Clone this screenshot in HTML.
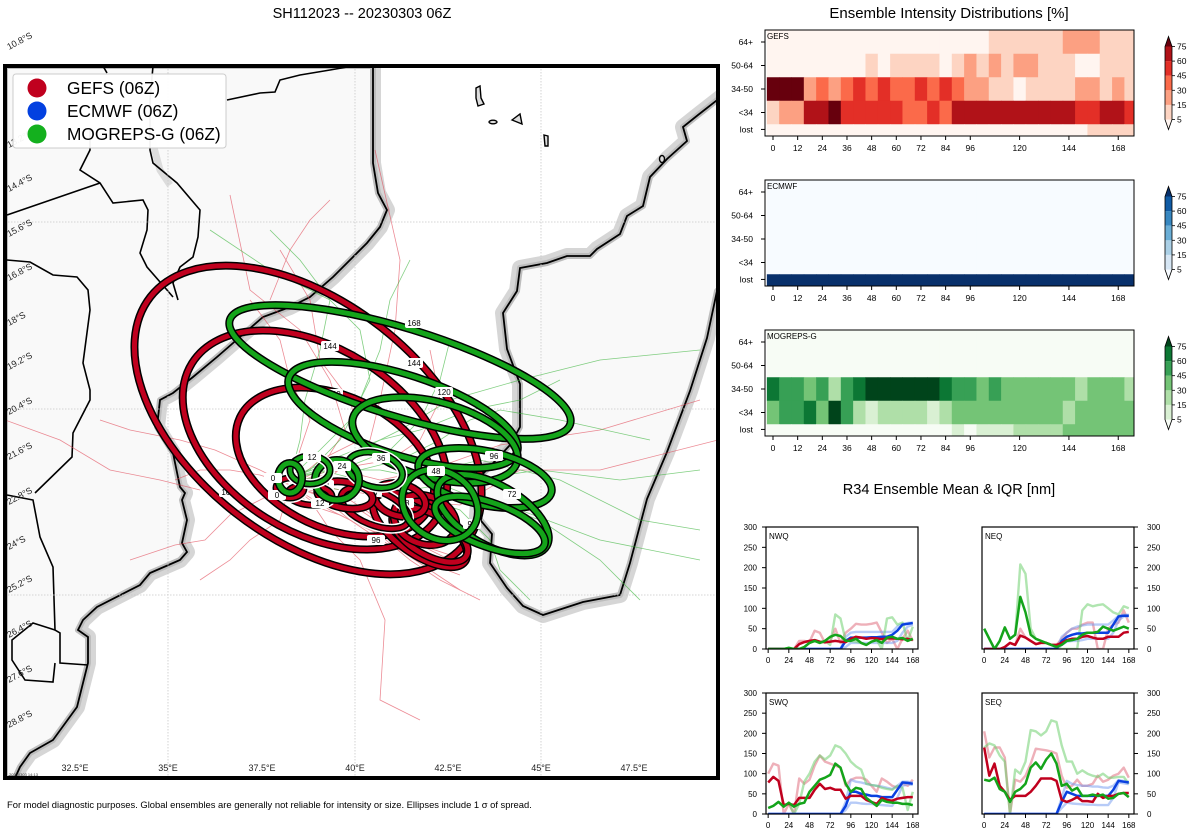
<!DOCTYPE html>
<html><head><meta charset="utf-8">
<style>
html,body{margin:0;padding:0;background:#fff;}
svg{display:block;font-family:"Liberation Sans","DejaVu Sans",sans-serif;}
</style></head>
<body>
<svg id="root" width="1200" height="840" viewBox="0 0 1200 840" xmlns="http://www.w3.org/2000/svg">
<defs>
<clipPath id="mapclip"><rect x="5" y="66" width="713" height="712"/></clipPath>
</defs>
<rect x="0" y="0" width="1200" height="840" fill="#fff"/>
<text x="362" y="18" text-anchor="middle" font-size="14.5">SH112023 -- 20230303 06Z</text>

<g id="map" clip-path="url(#mapclip)">
  <rect x="5" y="66" width="713" height="712" fill="#fff"/>
  <g>
  <path d="M5,66 L373,66 L373,130 L373,163 L378,193 L387,210 L380,227 L367,243 L353,257 L333,277 L310,297 L290,307 L263,317 L240,337 L217,357 L193,377 L173,393 L160,400 L157,427 L173,453 L180,487 L185,493 L182,500 L187,520 L182,543 L187,552 L180,560 L150,573 L140,585 L97,607 L83,620 L78,630 L88,637 L88,663 L77,707 L53,740 L30,753 L20,767 L15,778 L5,778 Z" fill="#f9f9f9" stroke="#d6d6d6" stroke-width="16" stroke-linejoin="round"/>
  <path d="M5,66 L373,66 L373,130 L373,163 L378,193 L387,210 L380,227 L367,243 L353,257 L333,277 L310,297 L290,307 L263,317 L240,337 L217,357 L193,377 L173,393 L160,400 L157,427 L173,453 L180,487 L185,493 L182,500 L187,520 L182,543 L187,552 L180,560 L150,573 L140,585 L97,607 L83,620 L78,630 L88,637 L88,663 L77,707 L53,740 L30,753 L20,767 L15,778 L5,778 Z" fill="#f9f9f9" stroke="#bdbdbd" stroke-width="6" stroke-linejoin="round"/>
  <path d="M373,66 L373,130 L373,163 L378,193 L387,210 L380,227 L367,243 L353,257 L333,277 L310,297 L290,307 L263,317 L240,337 L217,357 L193,377 L173,393 L160,400 L157,427 L173,453 L180,487 L185,493 L182,500 L187,520 L182,543 L187,552 L180,560 L150,573 L140,585 L97,607 L83,620 L78,630 L88,637 L88,663 L77,707 L53,740 L30,753 L20,767 L15,778" fill="none" stroke="#000" stroke-width="1.8"/>
  <path d="M148,100 L152,140 L160,170 L170,185" fill="none" stroke="#dcdcdc" stroke-width="7"/>
  <g fill="none" stroke="#000" stroke-width="1.6">
    <path d="M227,100 L260,93 L275,92 L280,80 L300,75 L330,70 L353,66"/>
    <path d="M103,66 L107,73"/>
    <path d="M153,66 L150,100 L150,150 L153,163 L177,183 L200,210 L198,237 L193,257 L180,267 L173,283 L178,300"/>
    <path d="M90,130 L90,150 L80,170 L100,183 L113,203 L143,200 L148,210 L147,230 L140,253 L147,267 L167,290 L173,297"/>
    <path d="M7,215 L100,183"/>
    <path d="M7,260 L30,262 L53,275 L77,277 L88,290 L90,310 L83,363 L90,390 L90,400 L73,433 L72,457 L35,493"/>
    <path d="M7,495 L33,500 L40,537 L53,567 L55,630 L60,633 L60,663 L88,665"/>
    <path d="M55,630 L33,623 L12,640 L12,660 L25,680 L53,682 L55,663"/>
  </g>
  </g>
  <g>
  <path d="M730,90 L698,115 L683,127 L687,141 L667,159 L650,177 L643,206 L627,216 L620,234 L597,249 L590,256 L567,256 L547,263 L520,268 L517,291 L503,313 L507,349 L520,384 L520,427 L510,445 L480,477 L477,516 L492,534 L490,563 L507,588 L523,606 L543,615 L583,602 L620,595 L630,563 L647,499 L667,452 L690,391 L707,338 L717,291 L730,280 Z" fill="#f9f9f9" stroke="#d6d6d6" stroke-width="16" stroke-linejoin="round"/>
  <path d="M730,90 L698,115 L683,127 L687,141 L667,159 L650,177 L643,206 L627,216 L620,234 L597,249 L590,256 L567,256 L547,263 L520,268 L517,291 L503,313 L507,349 L520,384 L520,427 L510,445 L480,477 L477,516 L492,534 L490,563 L507,588 L523,606 L543,615 L583,602 L620,595 L630,563 L647,499 L667,452 L690,391 L707,338 L717,291 L730,280 Z" fill="#f9f9f9" stroke="#bdbdbd" stroke-width="6" stroke-linejoin="round"/>
  <path d="M730,90 L698,115 L683,127 L687,141 L667,159 L650,177 L643,206 L627,216 L620,234 L597,249 L590,256 L567,256 L547,263 L520,268 L517,291 L503,313 L507,349 L520,384 L520,427 L510,445 L480,477 L477,516 L492,534 L490,563 L507,588 L523,606 L543,615 L583,602 L620,595 L630,563 L647,499 L667,452 L690,391 L707,338 L717,291 L730,280" fill="none" stroke="#000" stroke-width="1.8"/>
  </g>
  <g fill="#ddd" stroke="#000" stroke-width="1.4">
    <path d="M476,88 L480,86 L481,98 L484,104 L478,106 L476,98 Z"/>
    <ellipse cx="493" cy="122" rx="4" ry="1.8"/>
    <path d="M512,120 L520,114 L522,124 Z"/>
    <path d="M544,135 L548,136 L548,146 L545,146 Z"/>
    <ellipse cx="662" cy="159" rx="2.5" ry="3.5"/>
  </g>
  <g stroke="#c8c8c8" stroke-width="0.8" stroke-dasharray="1.5,1.5">
    <line x1="168" y1="66" x2="168" y2="778"/><line x1="355" y1="66" x2="355" y2="778"/><line x1="541" y1="66" x2="541" y2="778"/>
    <line x1="5" y1="222" x2="718" y2="222"/><line x1="5" y1="409" x2="718" y2="409"/><line x1="5" y1="595" x2="718" y2="595"/>
  </g>
  <g fill="none" stroke="#e04050" stroke-width="0.8" opacity="0.6">
    <polyline points="290,485 320,470 345,430 330,380 300,330 250,290 230,195"/>
    <polyline points="290,485 330,478 370,440 380,400 395,330 400,260 375,150"/>
    <polyline points="290,485 320,495 350,520 380,540 420,560 460,575"/>
    <polyline points="290,485 260,470 215,450 180,440 130,430 100,420"/>
    <polyline points="290,485 310,500 330,530 360,560 385,620 380,700 420,720"/>
    <polyline points="290,485 260,500 230,515 205,540 175,545 130,560"/>
    <polyline points="290,485 340,470 380,480 430,470 500,445 600,430 700,400"/>
    <polyline points="290,485 300,450 310,420 290,380 280,340 250,300"/>
    <polyline points="290,485 330,500 360,510 390,530 420,545 450,555 470,540"/>
    <polyline points="290,485 280,520 250,540 230,560 200,580"/>
    <polyline points="290,485 345,490 400,500 460,505 520,470 600,470 718,440"/>
    <polyline points="290,485 320,460 360,440 350,400 320,360 310,300 280,250"/>
    <polyline points="290,485 310,505 340,515 380,535 410,560 440,580 480,600"/>
    <polyline points="290,485 260,475 230,470 200,470 175,480"/>
    <polyline points="290,485 330,470 390,460 420,440 440,400 430,350"/>
    <polyline points="5,420 60,440 110,470 160,480 200,490"/>
    <polyline points="270,300 290,250 310,220 330,200"/>
    <polyline points="290,485 350,500 380,520 400,550 430,570 460,590"/>
    <polyline points="290,485 330,510 370,530 420,545 450,560"/>
  </g>
  <g fill="none" stroke="#30b030" stroke-width="0.8" opacity="0.6">
    <polyline points="290,478 330,470 380,470 430,480 480,500 540,520 600,560 640,600"/>
    <polyline points="290,478 320,450 350,420 370,380 360,330 330,300 270,270 210,230"/>
    <polyline points="290,478 340,460 400,430 450,400 520,380 600,360 700,350"/>
    <polyline points="290,478 330,480 380,490 450,495 520,510 600,540 700,560"/>
    <polyline points="290,478 310,470 340,440 360,400 380,350 390,300 410,260"/>
    <polyline points="290,478 330,470 360,470 400,460 440,440 470,420 500,410 560,420 650,440"/>
    <polyline points="290,478 350,480 400,490 460,510 490,540 500,570 530,600"/>
    <polyline points="290,478 340,470 390,450 420,420 440,380 450,340"/>
    <polyline points="290,478 320,470 360,480 410,490 470,480 540,470 620,480 700,470"/>
    <polyline points="290,478 300,440 305,400 320,350 330,300 300,260 270,230"/>
    <polyline points="290,478 340,490 400,480 440,470 480,460 560,480 640,520 700,530"/>
    <polyline points="290,478 330,460 380,440 420,430 470,410 520,400 560,380"/>
  </g>
  <g id="ellipses"></g>
  <text x="9" y="776" font-size="4" fill="#333">20230303 14:13</text>
</g>
<rect x="5" y="66" width="713" height="712" fill="none" stroke="#000" stroke-width="4"/>

<g id="latlabels" font-size="9" fill="#222"></g>
<g font-size="9" fill="#222" text-anchor="middle">
  <text x="75" y="771">32.5°E</text><text x="168" y="771">35°E</text><text x="262" y="771">37.5°E</text><text x="355" y="771">40°E</text><text x="448" y="771">42.5°E</text><text x="541" y="771">45°E</text><text x="634" y="771">47.5°E</text>
</g>

<g>
  <rect x="13" y="74" width="213" height="74" rx="3" fill="#fff" stroke="#ccc" stroke-width="1" fill-opacity="0.95"/>
  <g><circle cx="37" cy="88" r="9.5" fill="#c0001e"/><text x="67" y="94" font-size="17.3">GEFS (06Z)</text></g>
  <g><circle cx="37" cy="111" r="9.5" fill="#0340e0"/><text x="67" y="117" font-size="17.3">ECMWF (06Z)</text></g>
  <g><circle cx="37" cy="134" r="9.5" fill="#14b01e"/><text x="67" y="140" font-size="17.3">MOGREPS-G (06Z)</text></g>
</g>

<text x="7" y="808" font-size="9.4" fill="#000">For model diagnostic purposes. Global ensembles are generally not reliable for intensity or size. Ellipses include 1 σ of spread.</text>

<text x="949" y="18" text-anchor="middle" font-size="15">Ensemble Intensity Distributions [%]</text>
<g id="heatmaps"></g>

<text x="949" y="494" text-anchor="middle" font-size="14.6">R34 Ensemble Mean &amp; IQR [nm]</text>
<g id="lines"></g>
</svg>

<script>
const hmHours = [0,6,12,18,24,30,36,42,48,54,60,66,72,78,84,90,96,102,108,114,120,126,132,138,144,150,156,162,168,174];
const hmCats = ['64+','50-64','34-50','<34','lost'];
const hmTicks = [0,12,24,36,48,60,72,84,96,120,144,168];
const cbTicks = [5,15,30,45,60,75];
const gefs64   = [2,2,2,2,2,2,2,2,2,2,2,2,2,2,2,2,2,2,10,10,10,10,10,10,22,22,22,10,10,10];
const gefs50   = [2,2,2,2,2,2,2,2,10,2,10,10,10,10,2,10,22,10,22,10,22,22,10,10,10,2,2,10,10,10];
const gefs34   = [85,85,85,22,38,22,38,52,38,52,38,38,52,38,52,38,22,22,10,10,2,10,10,10,10,22,22,10,22,10];
const gefsTS   = [10,22,22,68,68,85,52,52,52,52,52,38,38,52,38,68,68,68,68,68,68,68,68,68,68,52,52,68,68,52];
const gefsLost = [2,2,2,2,2,2,2,2,2,2,2,2,2,2,2,2,2,2,2,2,2,2,2,2,2,2,10,10,10,10];
const ecm64   = [0,0,0,0,0,0,0,0,0,0,0,0,0,0,0,0,0,0,0,0,0,0,0,0,0,0,0,0,0,0];
const ecm50   = [0,0,0,0,0,0,0,0,0,0,0,0,0,0,0,0,0,0,0,0,0,0,0,0,0,0,0,0,0,0];
const ecm34   = [0,0,0,0,0,0,0,0,0,0,0,0,0,0,0,0,0,0,0,0,0,0,0,0,0,0,0,0,0,0];
const ecmTS   = [0,0,0,0,0,0,0,0,0,0,0,0,0,0,0,0,0,0,0,0,0,0,0,0,0,0,0,0,0,0];
const ecmLost = [100,100,100,100,100,100,100,100,100,100,100,100,100,100,100,100,100,100,100,100,100,100,100,100,100,100,100,100,100,100];
const mog64   = [0,0,0,0,0,0,0,0,0,0,0,0,0,0,0,0,0,0,0,0,0,0,0,0,0,0,0,0,0,0];
const mog50   = [0,0,0,0,0,0,0,0,0,0,0,0,0,0,0,0,0,0,0,0,0,0,0,0,0,0,0,0,0,0];
const mog34   = [68,52,52,38,52,22,52,68,85,85,85,85,85,85,68,52,52,38,52,38,38,38,38,38,38,22,38,38,38,22];
const mogTS   = [38,52,52,68,38,85,52,22,10,22,22,22,22,10,22,38,38,38,38,38,38,38,38,38,22,38,38,38,38,38];
const mogLost = [2,2,2,2,2,2,2,2,2,2,2,2,2,2,2,10,2,10,10,10,22,22,22,22,38,38,38,38,38,38];

const lnHours = [0,6,12,18,24,30,36,42,48,54,60,66,72,78,84,90,96,102,108,114,120,126,132,138,144,150,156,162,168];
const lnXTicks = [0,24,48,72,96,120,144,168];
const lnYTicks = [0,50,100,150,200,250,300];
const nwqGefsMean = [0,0,0,0,0,0,12,17,20,22,18,17,18,20,18,17,25,30,28,25,27,26,24,26,26,25,24,25,22];
const nwqGefsUp   = [0,0,0,0,0,0,20,20,18,45,40,15,20,50,15,40,50,62,60,60,62,65,40,15,25,0,25,45,20];
const nwqEcMean   = [0,0,0,0,0,0,0,0,0,0,0,0,0,0,0,20,28,28,28,28,29,29,30,30,35,45,60,62,64];
const nwqEcUp     = [0,0,0,0,0,0,0,0,0,0,0,0,0,0,0,30,40,42,42,42,42,42,42,42,42,55,62,64,65];
const nwqEcLo     = [0,0,0,0,0,0,0,0,0,0,0,0,0,0,0,5,15,15,15,15,15,15,15,15,15,20,40,55,60];
const nwqMoMean   = [0,0,0,0,3,0,0,5,15,20,15,20,30,35,32,20,20,25,15,10,18,22,15,28,30,25,27,20,25];
const nwqMoUp     = [0,0,0,0,3,0,0,5,15,20,15,20,10,85,75,20,20,18,15,10,18,22,0,75,78,60,65,20,55];
const neqGefsMean = [0,0,0,0,5,15,10,33,28,20,12,15,15,10,10,15,22,25,25,30,32,28,25,25,30,30,30,40,42];
const neqGefsUp   = [0,0,0,0,5,15,10,50,28,20,12,15,15,10,10,25,40,50,50,60,65,65,0,0,50,60,65,95,65];
const neqEcMean   = [0,0,0,0,0,0,0,0,0,0,0,0,0,0,0,20,30,35,38,38,40,40,40,40,40,60,80,82,82];
const neqEcUp     = [0,0,0,0,0,0,0,0,0,0,0,0,0,0,0,30,40,50,55,58,60,60,60,60,60,70,82,84,84];
const neqEcLo     = [0,0,0,0,0,0,0,0,0,0,0,0,0,0,0,10,18,20,20,22,25,25,25,25,25,40,70,80,80];
const neqMoMean   = [50,25,0,20,53,25,35,128,90,35,25,20,15,10,5,10,20,22,25,35,40,40,42,55,50,45,50,55,50];
const neqMoUp     = [50,25,0,20,53,25,35,208,185,50,25,20,15,10,5,0,0,0,0,95,110,105,108,110,100,90,85,105,100];
const swqGefsMean = [78,92,82,22,25,22,40,40,40,60,75,62,65,60,60,38,45,45,45,35,30,25,40,35,33,38,40,42,42];
const swqGefsUp   = [100,125,120,0,25,0,88,75,85,120,145,130,125,120,115,70,85,90,90,85,70,55,88,80,70,65,75,70,85];
const swqEcMean   = [0,0,0,0,0,0,0,0,0,0,0,0,0,0,0,20,55,55,50,48,45,45,42,42,42,60,78,77,75];
const swqEcUp     = [0,0,0,0,0,0,0,0,0,0,0,0,0,0,0,30,85,80,78,75,72,70,68,65,62,70,80,80,78];
const swqEcLo     = [0,0,0,0,0,0,0,0,0,0,0,0,0,0,0,10,28,28,26,25,25,23,22,21,20,40,70,74,72];
const swqMoMean   = [15,20,30,18,28,18,25,28,55,70,85,90,97,125,115,75,55,65,62,40,30,20,35,30,28,28,25,25,22];
const swqMoUp     = [15,20,30,18,28,0,25,80,100,130,145,135,145,170,165,150,130,118,110,75,72,70,65,62,60,70,65,10,55];
const seqGefsMean = [165,95,125,70,55,35,45,45,45,55,70,88,88,88,82,35,30,35,42,32,32,30,50,40,45,45,50,52,52];
const seqGefsUp   = [205,140,165,165,140,0,85,80,95,125,162,160,158,155,150,95,65,70,85,70,70,75,95,80,85,95,100,115,90];
const seqEcMean   = [0,0,0,0,0,0,0,0,0,0,0,0,0,0,0,30,55,50,45,45,45,45,45,45,45,60,82,80,78];
const seqEcUp     = [0,0,0,0,0,0,0,0,0,0,0,0,0,0,0,40,82,75,72,70,70,68,68,66,65,70,84,82,80];
const seqEcLo     = [0,0,0,0,0,0,0,0,0,0,0,0,0,0,0,15,28,26,25,24,23,23,22,22,22,40,78,76,74];
const seqMoMean   = [85,82,90,62,55,30,55,62,75,115,128,112,135,150,125,70,75,58,65,45,45,48,45,48,38,40,50,52,42];
const seqMoUp     = [165,175,170,145,130,0,110,100,130,208,205,195,205,232,228,170,130,130,100,108,100,95,92,100,90,90,92,92,75];

const ellipseHours = ['0','12','24','36','48','72','96','120','144','168'];

const NS = 'http://www.w3.org/2000/svg';
function mk(tag, attrs, parent){ const e=document.createElementNS(NS,tag); for(const k in attrs) e.setAttribute(k,attrs[k]); if(parent) parent.appendChild(e); return e; }

const latNames = ['10.8°S','13.2°S','14.4°S','15.6°S','16.8°S','18°S','19.2°S','20.4°S','21.6°S','22.8°S','24°S','25.2°S','26.4°S','27.6°S','28.8°S'];
const latY = [50,148,192,237,281,326,370,415,460,505,550,593,638,683,728];
const latG = document.getElementById('latlabels');
latNames.forEach((n,i)=>{
  const t = mk('text',{x:9,y:latY[i],transform:`rotate(-28 9 ${latY[i]})`},latG);
  
  
  t.textContent = n;
});

const eg = document.getElementById('ellipses');
function ell(cx,cy,rx,ry,rot,color,white,label,lx,ly,name){
  const g = mk('g',{},eg);
  
  
  const tr = `rotate(${rot} ${cx} ${cy})`;
  if(white) mk('ellipse',{cx,cy,rx,ry,transform:tr,fill:'none',stroke:'#fff',"stroke-width":10},g);
  mk('ellipse',{cx,cy,rx,ry,transform:tr,fill:'none',stroke:'#000',"stroke-width":white?7:8},g);
  mk('ellipse',{cx,cy,rx,ry,transform:tr,fill:'none',stroke:color,"stroke-width":white?4:5},g);
  if(label!==undefined){
    mk('rect',{x:lx-9,y:ly-5,width:18,height:10,fill:'#fff',rx:2},g);
    const t = mk('text',{x:lx,y:ly+3,"text-anchor":"middle","font-size":8,fill:'#000'},g);
    t.textContent = label;
  }
}
const R='#c0001e', G='#14a41a';
ell(308,420,200,118,38,R,false,ellipseHours[9],228,492,'gefs-ellipse-168');
ell(315,440,145,92,32,R,false,ellipseHours[8],330,346,'gefs-ellipse-144');
ell(335,462,105,66,25,R,false,ellipseHours[7],334,394,'gefs-ellipse-120');
ell(420,530,55,24,35,R,false,ellipseHours[6],376,540,'gefs-ellipse-96');
ell(430,535,42,20,30,R,false,ellipseHours[5],448,520,'gefs-ellipse-72');
ell(425,520,32,24,20,R,false,ellipseHours[4],405,503,'gefs-ellipse-48');
ell(400,500,26,16,15,R,false,undefined,0,0,'gefs-ellipse-60');
ell(375,508,36,17,22,R,true,ellipseHours[3],373,492,'gefs-ellipse-36');
ell(345,495,28,13,10,R,false,ellipseHours[2],325,485,'gefs-ellipse-24');
ell(310,495,22,10,5,R,true,ellipseHours[1],320,503,'gefs-ellipse-12');
ell(290,488,14,10,0,R,true,ellipseHours[0],277,495,'gefs-ellipse-0');
ell(400,372,178,44,17,G,false,ellipseHours[9],414,323,'mogreps-ellipse-168');
ell(403,415,120,40,18,G,false,ellipseHours[8],414,363,'mogreps-ellipse-144');
ell(435,440,85,38,15,G,false,ellipseHours[7],444,392,'mogreps-ellipse-120');
ell(485,478,68,27,12,G,false,ellipseHours[6],494,456,'mogreps-ellipse-96');
ell(493,515,62,30,30,G,false,ellipseHours[5],512,494,'mogreps-ellipse-72');
ell(490,525,58,22,20,G,false,ellipseHours[6],472,524,'mogreps-ellipse-96b');
ell(440,505,40,33,35,G,false,ellipseHours[4],436,471,'mogreps-ellipse-48');
ell(375,470,28,17,15,G,true,ellipseHours[3],381,458,'mogreps-ellipse-36');
ell(337,480,22,20,0,G,false,ellipseHours[2],342,466,'mogreps-ellipse-24');
ell(310,470,20,14,0,G,true,ellipseHours[1],312,457,'mogreps-ellipse-12');
ell(290,478,12,15,0,G,false,ellipseHours[0],273,478,'mogreps-ellipse-0');

const hmG = document.getElementById('heatmaps');
const redPal = ['#fff5f0','#fdd4c2','#fca082','#fb6a4a','#e32f27','#b11218','#67000d'];
const bluePal = ['#f7fbff','#d6e6f4','#abd0e6','#6aaed6','#3787c0','#105ba4','#08306b'];
const greenPal = ['#f7fcf5','#d9f0d3','#afdfa8','#74c476','#37a055','#0c7734','#00441b'];
function level(v){ let l=0; for(let i=0;i<cbTicks.length;i++) if(v>=cbTicks[i]) l=i+1; return l; }
function heatmap(top, rows, pal, name, label){
  const g = mk('g',{},hmG);
  
  
  const L=765, Rr=1134, bottom=top+106, rowH=23.5;
  const xs = h => 773 + h*2.055;
  const ys = v => bottom - v*rowH;
  const cid = 'clip'+name;
  const cp = mk('clipPath',{id:cid},g); mk('rect',{x:L,y:top,width:Rr-L,height:bottom-top},cp);
  const cells = mk('g',{"clip-path":`url(#${cid})`},g);
  rows.forEach((arr,ri)=>{
    const cv = 4-ri;
    arr.forEach((v,ci)=>{
      const x0=xs(hmHours[ci]-3), x1=xs(hmHours[ci]+3);
      const r = mk('rect',{x:x0,y:ys(cv+0.5),width:x1-x0+0.4,height:rowH+0.4,fill:pal[level(v)]},cells);
      
      
    });
  });
  mk('rect',{x:L,y:top,width:Rr-L,height:bottom-top,fill:'none',stroke:'#000',"stroke-width":1},g);
  const t = mk('text',{x:L+2,y:top+9,"font-size":8},g); t.textContent=label;
  hmCats.forEach((c,i)=>{
    const cv=4-i; const y = cv===0 ? ys(0.28) : ys(cv);
    mk('line',{x1:L-4,y1:y,x2:L,y2:y,stroke:'#000'},g);
    const tt = mk('text',{x:L-12,y:y+3,"font-size":8.5,"text-anchor":"end"},g); tt.textContent=c;
  });
  hmTicks.forEach(h=>{
    const x=xs(h);
    mk('line',{x1:x,y1:bottom,x2:x,y2:bottom+4,stroke:'#000'},g);
    const tt = mk('text',{x:x,y:bottom+15,"font-size":8.5,"text-anchor":"middle"},g); tt.textContent=h;
  });
  const cb = mk('g',{},g);
  
  
  const cx0=1165, cx1=1172, cy0=top+16.5, step=14.6;
  const tickY = i => cy0+73 - i*step;
  for(let i=0;i<5;i++) mk('rect',{x:cx0,y:tickY(i+1),width:cx1-cx0,height:step,fill:pal[i+1]},cb);
  mk('path',{d:`M${cx0},${tickY(5)} L${(cx0+cx1)/2},${tickY(5)-10} L${cx1},${tickY(5)} Z`,fill:pal[6]},cb);
  mk('path',{d:`M${cx0},${tickY(0)} L${(cx0+cx1)/2},${tickY(0)+10} L${cx1},${tickY(0)} Z`,fill:pal[0]},cb);
  mk('path',{d:`M${cx0},${tickY(5)} L${(cx0+cx1)/2},${tickY(5)-10} L${cx1},${tickY(5)} L${cx1},${tickY(0)} L${(cx0+cx1)/2},${tickY(0)+10} L${cx0},${tickY(0)} Z`,fill:'none',stroke:'#000',"stroke-width":0.8},cb);
  cbTicks.forEach((v,i)=>{
    mk('line',{x1:cx1,y1:tickY(i),x2:cx1+3,y2:tickY(i),stroke:'#000',"stroke-width":0.8},cb);
    const tt = mk('text',{x:cx1+5,y:tickY(i)+3,"font-size":8.5},cb); tt.textContent=v;
  });
}
heatmap(30,[gefs64,gefs50,gefs34,gefsTS,gefsLost],redPal,'gefs-heatmap','GEFS');
heatmap(180,[ecm64,ecm50,ecm34,ecmTS,ecmLost],bluePal,'ecmwf-heatmap','ECMWF');
heatmap(330,[mog64,mog50,mog34,mogTS,mogLost],greenPal,'mogreps-heatmap','MOGREPS-G');

const lnG = document.getElementById('lines');
function lineChart(x0,x1,y0,y1,right,label,series,name){
  const g = mk('g',{},lnG);
  
  
  const xs = h => x0 + (h+2.5)*(x1-x0)/176.5;
  const ys = v => y1 - v*(y1-y0)/300;
  const cid='clip'+name;
  const cp = mk('clipPath',{id:cid},g); mk('rect',{x:x0,y:y0,width:x1-x0,height:y1-y0},cp);
  const pg = mk('g',{"clip-path":`url(#${cid})`},g);
  series.forEach(s=>{
    const pts = s.d.map((v,i)=>`${xs(lnHours[i]).toFixed(1)},${ys(v).toFixed(1)}`).join(' ');
    const p = mk('polyline',{points:pts,fill:'none',stroke:s.c,"stroke-width":s.w,"stroke-opacity":s.o,"stroke-linejoin":"round"},pg);
    
    
  });
  mk('rect',{x:x0,y:y0,width:x1-x0,height:y1-y0,fill:'none',stroke:'#000',"stroke-width":1.2},g);
  const t = mk('text',{x:x0+3,y:y0+12,"font-size":8},g); t.textContent=label;
  lnYTicks.forEach(v=>{
    const y=ys(v);
    if(right){ mk('line',{x1:x1,y1:y,x2:x1+4,y2:y,stroke:'#000'},g);
      const tt=mk('text',{x:x1+13,y:y+3,"font-size":8},g); tt.textContent=v; }
    else { mk('line',{x1:x0-4,y1:y,x2:x0,y2:y,stroke:'#000'},g);
      const tt=mk('text',{x:x0-9,y:y+3,"font-size":8,"text-anchor":"end"},g); tt.textContent=v; }
  });
  lnXTicks.forEach(h=>{
    const x=xs(h);
    mk('line',{x1:x,y1:y1,x2:x,y2:y1+4,stroke:'#000'},g);
    const tt=mk('text',{x:x,y:y1+14,"font-size":8,"text-anchor":"middle"},g); tt.textContent=h;
  });
}
const cR='#c0001e', cB='#0a40e0', cG='#14a41a', lR='#e07080', lB='#7098f0', lG='#70cf70';
function S(gm,gu,em,eu,el,mm,mu){
  return [
    {d:gu,c:lR,w:2.4,o:0.55,n:'gefs-iqr'},{d:eu,c:lB,w:2.4,o:0.5,n:'ecmwf-iqr-upper'},{d:el,c:lB,w:2.4,o:0.5,n:'ecmwf-iqr-lower'},
    {d:mu,c:lG,w:2.4,o:0.55,n:'mogreps-iqr'},
    {d:em,c:cB,w:2.5,o:1,n:'ecmwf-mean'},{d:gm,c:cR,w:2.5,o:1,n:'gefs-mean'},{d:mm,c:cG,w:2.5,o:1,n:'mogreps-mean'}];
}
lineChart(766,918,527,649,false,'NWQ',S(nwqGefsMean,nwqGefsUp,nwqEcMean,nwqEcUp,nwqEcLo,nwqMoMean,nwqMoUp),'nwq-chart');
lineChart(982,1134,527,649,true,'NEQ',S(neqGefsMean,neqGefsUp,neqEcMean,neqEcUp,neqEcLo,neqMoMean,neqMoUp),'neq-chart');
lineChart(766,918,693,814,false,'SWQ',S(swqGefsMean,swqGefsUp,swqEcMean,swqEcUp,swqEcLo,swqMoMean,swqMoUp),'swq-chart');
lineChart(982,1134,693,814,true,'SEQ',S(seqGefsMean,seqGefsUp,seqEcMean,seqEcUp,seqEcLo,seqMoMean,seqMoUp),'seq-chart');
</script>
</body></html>
